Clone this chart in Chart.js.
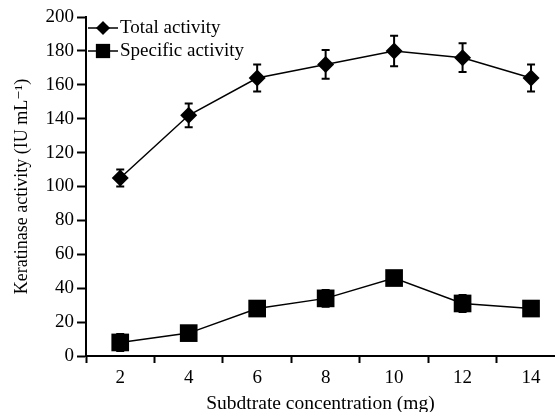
<!DOCTYPE html>
<html><head><meta charset="utf-8">
<script src="https://cdn.jsdelivr.net/npm/chart.js@4/dist/chart.umd.min.js"></script>
<style>html,body{margin:0;padding:0;background:#fff}#w{width:555px;height:412px}</style>
</head><body><div id="w"><canvas id="c"></canvas></div>
<script>
const concentrations = [2, 4, 6, 8, 10, 12, 14];
const totalActivity = [105, 142, 164, 172, 180, 176, 164];
const totalError = [5, 7, 8, 8.5, 9, 8.5, 8];
const specificActivity = [8, 13.5, 28, 34, 46, 31, 28];
const specificError = [5, 2, 2, 5, 2, 5, 2];
const yTicks = [0, 20, 40, 60, 80, 100, 120, 140, 160, 180, 200];
const seriesNames = ['Total activity', 'Specific activity'];

const FONT = '"Liberation Serif", "DejaVu Serif", serif';

const errorBars = {
  id: 'errorBars',
  beforeDatasetsDraw(chart) {
    const ctx = chart.ctx, ys = chart.scales.y, xs = chart.scales.x;
    const errs = [totalError, specificError];
    ctx.save();
    ctx.strokeStyle = '#000'; ctx.lineWidth = 2;
    chart.data.datasets.forEach((ds, i) => {
      ds.data.forEach((p, j) => {
        const x = xs.getPixelForValue(p.x);
        const y1 = ys.getPixelForValue(p.y + errs[i][j]);
        const y2 = ys.getPixelForValue(p.y - errs[i][j]);
        ctx.beginPath();
        ctx.moveTo(x, y1); ctx.lineTo(x, y2);
        ctx.moveTo(x - 4, y1); ctx.lineTo(x + 4, y1);
        ctx.moveTo(x - 4, y2); ctx.lineTo(x + 4, y2);
        ctx.stroke();
      });
    });
    ctx.restore();
  }
};

const customLegend = {
  id: 'customLegend',
  afterDraw(chart) {
    const ctx = chart.ctx, a = chart.chartArea;
    ctx.save();
    ctx.font = '19px ' + FONT;
    ctx.fillStyle = '#000'; ctx.strokeStyle = '#000';
    ctx.textBaseline = 'middle';
    chart.data.datasets.forEach((ds, i) => {
      const y = a.top + 11 + i * 23;
      const x0 = a.left + 2;
      ctx.lineWidth = 1.5;
      ctx.beginPath(); ctx.moveTo(x0, y); ctx.lineTo(x0 + 30, y); ctx.stroke();
      Chart.helpers.drawPoint(ctx, {pointStyle: ds.pointStyle, radius: ds.pointRadius * 0.8, borderWidth: 0}, x0 + 15, y);
      ctx.fill();
      ctx.fillText(ds.label, x0 + 32, y);
    });
    ctx.restore();
  }
};

new Chart(document.getElementById('c'), {
  type: 'line',
  data: {
    datasets: [
      {label: seriesNames[0], data: concentrations.map((c, i) => ({x: c, y: totalActivity[i]})),
       borderColor: '#000', backgroundColor: '#000', borderWidth: 1.5, pointStyle: 'rectRot', pointRadius: 8.5, pointBorderWidth: 0},
      {label: seriesNames[1], data: concentrations.map((c, i) => ({x: c, y: specificActivity[i]})),
       borderColor: '#000', backgroundColor: '#000', borderWidth: 1.5, pointStyle: 'rect', pointRadius: 12.5, pointBorderWidth: 0}
    ]
  },
  options: {
    responsive: true, maintainAspectRatio: false, animation: false,
    layout: {autoPadding: false, padding: {top: 17, right: 0, left: 0, bottom: 0}},
    plugins: {legend: {display: false}, tooltip: {enabled: false}},
    scales: {
      x: {
        type: 'linear', min: 1, max: 14.7,
        afterBuildTicks: s => { s.ticks = []; for (let v = 1; v <= 14; v++) s.ticks.push({value: v}); },
        ticks: {autoSkip: false, maxRotation: 0, color: '#000', font: {family: FONT, size: 19}, padding: 4,
          callback: v => concentrations.includes(v) ? String(v) : ''},
        grid: {drawOnChartArea: false, tickLength: 7, tickWidth: 2,
          tickColor: c => (c.tick && concentrations.includes(c.tick.value)) ? 'rgba(0,0,0,0)' : '#000'},
        border: {color: '#000', width: 2},
        title: {display: true, text: 'Subdtrate concentration (mg)', color: '#000', font: {family: FONT, size: 19.5}, padding: {top: 0, bottom: -4}},
        afterFit: s => { s.height = 56; s.paddingRight = 0; s.paddingLeft = 0; }
      },
      y: {
        min: 0, max: 200,
        afterBuildTicks: s => { s.ticks = yTicks.map(v => ({value: v})); },
        ticks: {color: '#000', font: {family: FONT, size: 19}, padding: 3},
        grid: {drawOnChartArea: false, tickLength: 9, tickWidth: 2, tickColor: '#000'},
        border: {color: '#000', width: 2},
        title: {display: true, text: 'Keratinase activity (IU mL\u207B\u00B9)', color: '#000', font: {family: FONT, size: 18}, padding: {top: 11, bottom: 2}},
        afterFit: s => { s.width = 86; }
      }
    }
  },
  plugins: [errorBars, customLegend]
});
</script></body></html>
